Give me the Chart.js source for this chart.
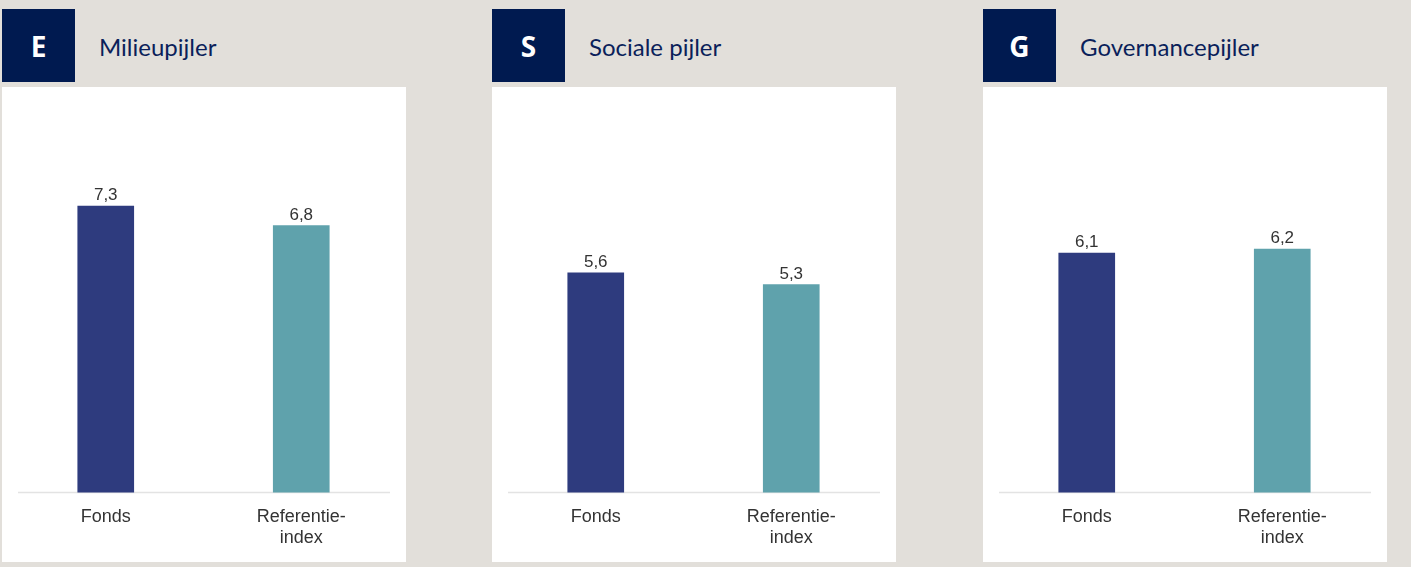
<!DOCTYPE html>
<html>
<head>
<meta charset="utf-8">
<script src="https://cdn.jsdelivr.net/npm/chart.js@4/dist/chart.umd.min.js"></script>
<style>
  body { margin: 0; width: 1411px; height: 567px; background: #e2dfda; overflow: hidden; position: relative; }
  .pillar { position: absolute; top: 0; width: 404px; height: 567px; }
  .letter { position: absolute; left: 0; top: 9px; width: 73px; height: 73px; background: #001a50; color: #fff;
            font: bold 28px "Open Sans", sans-serif; line-height: 74px; text-align: center; }
  .title { position: absolute; left: 97px; top: 9px; height: 73px; color: #0b1f5a;
           font: 24px Lato, sans-serif; line-height: 76px; white-space: nowrap; }
  .box { position: absolute; left: 0; top: 87px; width: 404px; height: 475px; background: #fff; }
</style>
</head>
<body>
<div class="pillar" style="left:2px"><div class="letter" id="l0"></div><div class="title" id="t0"></div><div class="box"><canvas id="c0"></canvas></div></div>
<div class="pillar" style="left:492px"><div class="letter" id="l1"></div><div class="title" id="t1"></div><div class="box"><canvas id="c1"></canvas></div></div>
<div class="pillar" style="left:983px"><div class="letter" id="l2"></div><div class="title" id="t2"></div><div class="box"><canvas id="c2"></canvas></div></div>
<script>
// data
var pillarLetters = ['E', 'S', 'G'];
var pillarTitles = ['Milieupijler', 'Sociale pijler', 'Governancepijler'];
var categories = ['Fonds', ['Referentie-', 'index']];
var fondsScores = [7.3, 5.6, 6.1];
var referenceScores = [6.8, 5.3, 6.2];
var scoreMax = 10;

var barColors = ['#2e3b7e', '#5fa2ac'];

// waarde boven de staaf, met komma
var valueLabels = {
    id: 'valueLabels',
    afterDatasetsDraw: function(chart) {
        var ctx = chart.ctx;
        ctx.save();
        ctx.font = '17px "Liberation Sans", Arial, sans-serif';
        ctx.fillStyle = '#333333';
        ctx.textAlign = 'center';
        ctx.textBaseline = 'bottom';
        chart.getDatasetMeta(0).data.forEach(function(bar, i) {
            var v = chart.data.datasets[0].data[i];
            ctx.fillText(v.toFixed(1).replace('.', ','), bar.x, bar.y - 2);
        });
        ctx.restore();
    }
};

// lichte basislijn
var baseLine = {
    id: 'baseLine',
    beforeDatasetsDraw: function(chart) {
        var ctx = chart.ctx, a = chart.chartArea;
        var y = chart.scales.y.getPixelForValue(0);
        ctx.save();
        ctx.strokeStyle = '#e3e3e3';
        ctx.lineWidth = 1.5;
        ctx.beginPath();
        ctx.moveTo(a.left + 10, y);
        ctx.lineTo(a.right - 9, y);
        ctx.stroke();
        ctx.restore();
    }
};

for (var i = 0; i < 3; i++) {
    document.getElementById('l' + i).textContent = pillarLetters[i];
    document.getElementById('t' + i).textContent = pillarTitles[i];

    var canvas = document.getElementById('c' + i);
    canvas.width = 404;
    canvas.height = 475;
    new Chart(canvas.getContext('2d'), {
        type: 'bar',
        data: {
            labels: categories,
            datasets: [{
                data: [fondsScores[i], referenceScores[i]],
                backgroundColor: barColors,
                barThickness: 56
            }]
        },
        options: {
            responsive: false,
            animation: false,
            layout: { padding: { top: 13, bottom: 8, left: 6, right: 7 } },
            plugins: { legend: { display: false }, tooltip: { enabled: false } },
            scales: {
                y: { display: false, min: 0, max: scoreMax },
                x: {
                    grid: { display: false },
                    border: { display: false },
                    ticks: {
                        color: '#333333',
                        padding: 6,
                        font: { family: '"Liberation Sans", Arial, sans-serif', size: 18, lineHeight: 1.15 }
                    }
                }
            }
        },
        plugins: [valueLabels, baseLine]
    });
}
</script>
</body>
</html>
